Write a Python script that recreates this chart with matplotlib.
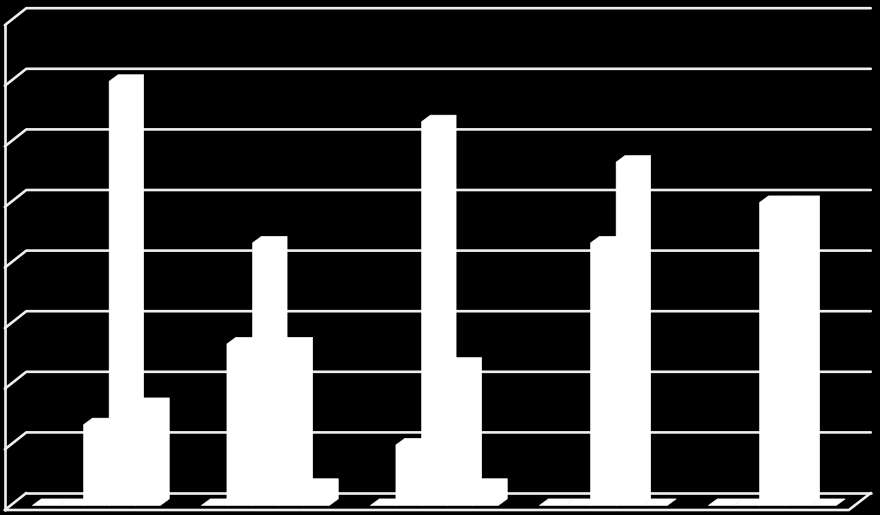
import numpy as np
import matplotlib
matplotlib.use('Agg')
import matplotlib.pyplot as plt

# one row per series, one value per category (no labels in the picture)
categories = [0, 1, 2, 3, 4]
series_1 = [0, 0, 0, 0, 0]
series_2 = [0, 8, 3, 0, 0]
series_3 = [4, 13, 19, 13, 15]
series_4 = [21, 8, 7, 17, 15]
series_5 = [5, 1, 1, 0, 0]
grid_values = [3, 6, 9, 12, 15, 18, 21, 24]

# scale: 1 x unit = one category, 1 y unit = one value step
px_x = 169.0
px_y = 20.2
bar_w = 25.6 / px_x
bar_dx = 9 / px_x
bar_dy = 6.6 / px_y
# offset of the back wall and front of floor, relative to the bar plane
wall_l = -27.5 / px_x
wall_b = -4.5 / px_y
back_l = -6 / px_x
back_r = 838.5 / px_x
back_b = 12.5 / px_y
front_r = 816.5 / px_x

fig = plt.figure(figsize=(8.8, 5.15), dpi=100, facecolor='black')
ax = fig.add_axes([0, 0, 1, 1])
ax.set_facecolor('black')
ax.set_xlim(-32.3 / px_x, 847.7 / px_x)
ax.set_ylim(-9.5 / px_y, 505.5 / px_y)
ax.axis('off')

line = dict(color='#efefef', lw=1.9, solid_capstyle='round', zorder=1)

# back wall grid with the part that runs down the side wall
ax.plot([back_l, back_r], [back_b, back_b], **line)
ax.plot([wall_l, back_l], [wall_b, back_b], **line)
for v in grid_values:
    ax.plot([wall_l, back_l, back_r], [v + wall_b, v + back_b, v + back_b], **line)

# side wall and front edge of the floor
ax.plot([wall_l, wall_l], [wall_b, grid_values[-1] + wall_b], **line)
ax.plot([wall_l, front_r, back_r], [wall_b, wall_b, back_b], **line)

# bars, each with its chamfered top and side face
all_series = [series_1, series_2, series_3, series_4, series_5]
for i, vals in enumerate(all_series):
    for c, v in zip(categories, vals):
        x = c + i * bar_w
        xs = [x, x, x + bar_dx, x + bar_w + bar_dx, x + bar_w + bar_dx, x + bar_w]
        ys = [0, v, v + bar_dy, v + bar_dy, bar_dy, 0]
        ax.fill(xs, ys, facecolor='white', edgecolor='white', lw=0.4, zorder=2)

plt.savefig('out.png', dpi=100, facecolor='black')
